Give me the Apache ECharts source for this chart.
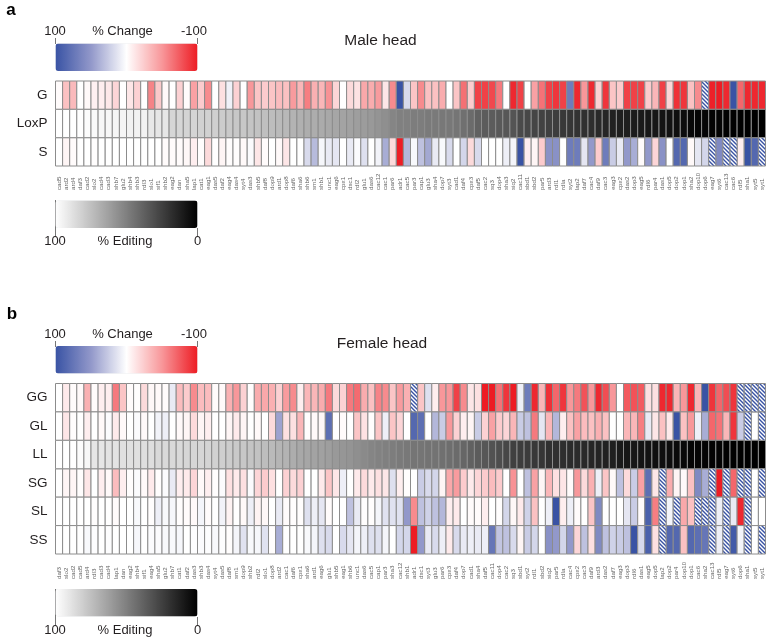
<!DOCTYPE html>
<html>
<head>
<meta charset="utf-8">
<style>
  html, body { margin: 0; padding: 0; background: #fff; }
  #main { width: 772px; height: 643px; }
</style>
<script src="https://cdn.jsdelivr.net/npm/echarts@6/dist/echarts.min.js"></script>
</head>
<body>
<div id="main"></div>
<script>
// genes, left to right. null in a row below = hatched cell
const maleGenes = ['cad5','ard2','ard4','daf3','cad2','slo2','cad4','cad3','shb7','glu2',
  'shb4','shb3','rdl3','slo1','sif1','shb2','eag2','dan','sha5','lap1',
  'cat1','eag1','das5','daf2','eag4','das4','syt4','das3','shb5','daf8',
  'dop9','ard1','dop8','daf6','sha6','shb6','sm1','shb1','unc1','eag6',
  'cpx1','dsc1','rdl2','glu1','das6','cac12','cac1','par6','adr1','cac5',
  'par3','cap1','glu3','sha4','dop7','syt3','cad1','daf4','cpx3','daf5',
  'cac2','sq3','dop4','sha3','siq2','cac11','sbd1','sbd2','par5','ard3',
  'rdl1','rdla','syt2','lap2','daf7','cac4','daf9','cac3','eag3','cpx2',
  'das2','dop3','eag5','rdl6','par4','das1','dop5','dop2','dop1','sha2',
  'dop10','dop6','eag7','syt6','cac13','cac6','rdl5','sha1','syt5','syt1'];
const femaleGenes = ['daf3','slo2','cad2','cad5','ard4','rdl3','cad3','cad4','lap1','dan',
  'eag2','shb4','sif1','eag4','sha5','glu2','shb7','cat1','daf2','das3',
  'shb3','das4','syt4','das5','daf8','sm1','dop9','shb2','rdl2','slo1',
  'dop8','ard2','cac1','daf6','cpx1','sha6','ard1','eag6','glu1','shb5',
  'eag1','shb6','unc1','das6','cac5','cap1','par3','sha3','cac12','shb1',
  'adr1','dsc1','syt3','glu3','par6','cpx3','daf4','dop7','cad1','sha4',
  'daf5','cac11','dop4','cac2','sq3','sbd1','syt2','rdl1','sbd2','siq2',
  'par5','rdla','cac4','cpx2','cac3','daf9','ard3','das2','daf7','eag3',
  'dop3','rdl6','das1','eag5','dop5','lap2','dop2','par4','dop10','dop1',
  'cac6','sha2','cac13','rdl5','eag7','syt6','dop6','sha1','syt5','syt1'];

const maleRows = ['G', 'LoxP', 'S'];
const femaleRows = ['GG', 'GL', 'LL', 'SG', 'SL', 'SS'];

// % change
const maleG = [-2,-30,-33,0,-3,-7,-8,-11,-20,0,
  -12,-22,0,-58,-26,-3,0,-22,-2,-45,
  -25,-55,0,-15,7,-22,0,-50,-28,-25,
  -28,-32,-30,-48,-35,-60,-38,-35,-52,-20,
  0,-18,-14,-42,-40,-48,-12,-55,100,18,
  -28,-55,-30,-30,-40,0,-28,-66,-25,-85,
  -85,-82,-62,0,-95,-85,0,-45,-65,-85,
  -90,-85,70,-95,-50,-95,-22,-90,-28,-25,
  -85,-85,-85,-25,-35,-85,-20,-92,-90,-30,
  -55,null,-98,-100,-95,100,-70,-95,-95,-95];
const maleS = [0,-5,-2,0,0,-1,0,0,0,0,
  0,0,0,0,0,-2,-2,-2,-4,-8,
  -1,-18,0,-5,-1,-1,-3,2,-12,-2,
  0,-3,-12,0,0,18,33,4,10,12,
  0,10,2,15,0,6,40,-18,-100,35,
  3,30,42,10,3,18,0,20,-18,18,
  0,0,0,8,5,100,-8,-5,-25,55,
  55,0,70,70,12,50,-25,70,25,10,
  50,40,-2,50,-20,55,0,85,85,-3,
  12,20,null,60,null,null,-8,100,85,null];
const femaleGG = [0,-10,-2,-3,-38,-2,-8,-8,-62,-28,
  -2,-1,-18,-4,-3,-2,10,-32,-25,-55,
  -32,-32,-2,-3,-38,-50,-22,-1,-40,-42,
  -38,-22,-48,-55,-8,-35,-35,-40,-62,-18,
  -22,-62,-68,-40,-30,-58,-55,-28,-48,-38,
  null,-28,15,-8,-50,-50,-85,-55,-12,-15,
  -100,-100,-65,-90,-100,8,70,-95,-35,-92,
  -70,-90,-50,-62,-78,-50,-95,-80,-50,0,
  -75,-78,-75,-15,-15,-95,-95,-35,-50,-95,
  -35,100,-90,-70,-80,-90,null,null,null,null];
const femaleGL = [0,-12,-1,0,-8,0,-3,2,-10,-3,
  0,2,-3,0,6,8,0,-3,-5,-18,
  -5,-8,0,0,-5,-10,-5,0,-3,0,
  -18,45,-15,-15,-35,-1,-3,-4,80,0,
  -2,0,-28,-14,-1,-28,8,-28,-20,0,
  85,80,0,35,25,-50,-22,-8,-5,25,
  -22,-45,-25,-20,-35,25,30,-62,12,-35,
  35,-8,-30,-45,-32,-30,-38,-30,0,0,
  -35,-35,-60,10,-12,-30,-10,100,-30,-50,
  8,40,-70,-65,-35,-90,25,null,0,null];
const femaleSG = [0,-5,-5,-1,-12,0,-8,-3,-32,-8,
  -1,2,-3,-10,-1,2,10,-8,-10,-20,
  -3,-8,-1,2,-15,-10,-15,2,-20,-25,
  -15,0,-22,-18,-22,0,0,-10,-28,-12,
  8,0,-10,-18,-10,-15,-12,15,-8,-1,
  0,25,18,20,-5,-42,-48,-25,-10,-20,
  -25,-32,-25,0,-52,0,30,-45,-5,-35,
  -15,-12,-2,-50,-18,-38,8,-28,-3,30,
  -18,25,-45,80,-12,null,-40,-5,-3,-30,
  60,40,null,-100,null,-70,null,null,0,null];
const femaleSL = [0,0,0,0,0,-1,0,0,-2,0,
  0,3,0,-1,8,3,4,-1,-2,-3,
  5,-2,0,6,-6,0,-3,8,-6,-4,
  0,10,-2,-1,-1,15,8,12,-2,0,
  0,30,10,-1,-1,5,14,14,14,50,
  -55,30,22,30,35,-8,-10,0,-2,-2,
  -8,0,-1,20,-4,-10,22,-30,0,8,
  100,-8,8,-2,0,-28,60,0,0,0,
  12,25,-2,90,-60,null,5,null,-42,-30,
  null,null,null,8,null,10,-95,null,0,0];
const femaleSS = [0,0,0,0,3,1,0,1,0,0,
  0,4,0,2,2,3,3,4,0,1,
  2,1,3,1,-1,5,14,3,4,14,
  -1,40,0,0,0,3,5,15,18,0,
  18,12,5,8,15,15,5,0,20,20,
  -100,50,10,18,8,-10,18,10,8,10,
  8,75,28,30,18,-5,25,20,0,55,
  50,20,50,-20,30,-15,60,30,22,25,
  30,100,18,90,-15,null,85,85,-30,85,
  80,75,null,8,null,95,5,null,0,null];

// % editing
const maleLoxP = [100,100,100,100,99,98,97,97,96,96,
  95,95,95,91,90,90,84,84,83,83,
  82,82,81,80,79,78,78,77,76,75,
  74,73,72,70,69,68,68,67,66,65,
  64,63,62,61,60,58,56,52,50,50,
  49,49,48,48,47,47,46,44,42,38,
  36,36,35,34,33,29,28,27,26,25,
  24,22,21,20,19,18,16,15,13,12,
  12,11,10,9,9,8,7,6,5,3,
  2,2,1,1,0,0,0,0,0,0];
const femaleLL = [100,100,100,99,97,90,90,89,89,88,
  88,88,87,87,85,85,85,85,84,84,
  84,83,82,81,80,79,78,77,76,74,
  73,71,70,68,66,65,64,63,62,60,
  59,58,56,54,52,51,50,49,48,47,
  46,46,45,45,44,43,42,40,38,36,
  34,32,30,28,25,24,23,22,21,19,
  19,18,17,17,16,15,14,13,12,10,
  9,9,8,7,6,6,5,4,3,2,
  2,1,1,1,0,0,0,0,0,0];

const font = 'Liberation Sans';
const blue = '#3953a4';
const red = '#ed1c24';

// diagonal hatch used for cells with no value
const hatch = document.createElement('canvas');
hatch.width = 4;
hatch.height = 4;
const hc = hatch.getContext('2d');
hc.fillStyle = '#fff';
hc.fillRect(0, 0, 4, 4);
hc.strokeStyle = blue;
hc.lineWidth = 1.4;
hc.beginPath();
hc.moveTo(-1, -1); hc.lineTo(5, 5);
hc.moveTo(-1, 3); hc.lineTo(1, 5);
hc.moveTo(3, -1); hc.lineTo(5, 1);
hc.stroke();

// [x, y, value] triples for one row, skipping or keeping the hatched cells
function cells(row, y) {
  const out = [];
  row.forEach((v, x) => { if (v !== null) out.push([x, y, v]); });
  return out;
}
function hatched(row, y) {
  const out = [];
  row.forEach((v, x) => { if (v === null) out.push([x, y, 0]); });
  return out;
}

function cellItem(params, api) {
  const p = api.coord([api.value(0), api.value(1)]);
  const s = api.size([1, 1]);
  return {
    type: 'rect',
    shape: { x: p[0] - s[0] / 2, y: p[1] - s[1] / 2, width: s[0], height: s[1] },
    style: {
      fill: api.visual('color'),
      stroke: '#8c8c8c',
      lineWidth: 1
    }
  };
}

function hatchItem(params, api) {
  const item = cellItem(params, api);
  item.style.fill = { image: hatch, repeat: 'repeat' };
  return item;
}

function heat(name, panel, data, render) {
  return {
    name: name,
    type: 'custom',
    xAxisIndex: panel,
    yAxisIndex: panel,
    data: data,
    silent: true,
    clip: false,
    renderItem: render || cellItem,
    encode: { x: 0, y: 1 }
  };
}

function gradientBar(left, top, series, min, max, colors) {
  return {
    type: 'continuous',
    orient: 'horizontal',
    inverse: true,
    min: min,
    max: max,
    left: left,
    top: top,
    padding: 0,
    itemWidth: 27.5,
    itemHeight: 142,
    calculable: false,
    hoverLink: false,
    text: null,
    dimension: 2,
    seriesIndex: series,
    inRange: { color: colors }
  };
}

function label(text, x, y, size, extra) {
  return {
    type: 'text',
    x: x,
    y: y,
    silent: true,
    style: Object.assign({
      text: text,
      font: size + 'px "' + font + '"',
      fill: '#231f20',
      align: 'center',
      verticalAlign: 'middle'
    }, extra || {})
  };
}

function tick(x, y1, y2) {
  return {
    type: 'line',
    silent: true,
    shape: { x1: x, y1: y1, x2: x, y2: y2 },
    style: { stroke: '#777', lineWidth: 1 }
  };
}

function geneAxis(names, idx, margin) {
  return {
    type: 'category',
    gridIndex: idx,
    data: names,
    axisLine: { show: false },
    axisTick: { show: false },
    axisLabel: {
      interval: 0,
      rotate: 90,
      align: 'left',
      verticalAlign: 'middle',
      margin: margin,
      fontFamily: font,
      fontSize: 6.2,
      color: '#666'
    }
  };
}

function rowAxis(names, idx) {
  return {
    type: 'category',
    gridIndex: idx,
    data: names,
    inverse: true,
    axisLine: { show: false },
    axisTick: { show: false },
    axisLabel: { margin: 8, fontFamily: font, fontSize: 13.5, color: '#231f20' }
  };
}

const changeColors = [red, '#f8979a', '#ffffff', '#9298ca', blue];
const editColors = ['#000000', '#ffffff'];

const chart = echarts.init(document.getElementById('main'));
chart.setOption({
  backgroundColor: '#fff',
  animation: false,
  grid: [
    { left: 55.5, top: 81, width: 710, height: 85 },
    { left: 55.5, top: 383.5, width: 710, height: 170.5 }
  ],
  xAxis: [geneAxis(maleGenes, 0, 24), geneAxis(femaleGenes, 1, 25)],
  yAxis: [rowAxis(maleRows, 0), rowAxis(femaleRows, 1)],
  visualMap: [
    gradientBar(55.5, 43.5, [0], -100, 100, changeColors),
    gradientBar(55.5, 200.5, [1], 0, 100, editColors),
    gradientBar(55.5, 346, [3], -100, 100, changeColors),
    gradientBar(55.5, 589, [4], 0, 100, editColors)
  ],
  series: [
    heat('male change', 0, cells(maleG, 0).concat(cells(maleS, 2))),
    heat('male editing', 0, cells(maleLoxP, 1)),
    heat('male hatched', 0, hatched(maleG, 0).concat(hatched(maleS, 2)), hatchItem),
    heat('female change', 1, [].concat(cells(femaleGG, 0), cells(femaleGL, 1), cells(femaleSG, 3),
      cells(femaleSL, 4), cells(femaleSS, 5))),
    heat('female editing', 1, cells(femaleLL, 2)),
    heat('female hatched', 1, [].concat(hatched(femaleGG, 0), hatched(femaleGL, 1), hatched(femaleSG, 3),
      hatched(femaleSL, 4), hatched(femaleSS, 5)), hatchItem)
  ],
  graphic: [
    label('a', 11, 10, 17, { font: 'bold 17px "' + font + '"', fill: '#000' }),
    label('100', 55, 31.5, 13),
    label('% Change', 122.5, 31.5, 13),
    label('-100', 194, 31.5, 13),
    tick(55.5, 38, 44),
    tick(197.5, 38, 44),
    label('Male head', 380.5, 41, 15.5),
    tick(55.5, 200, 236),
    tick(197.5, 228, 236),
    label('100', 55, 241, 13),
    label('% Editing', 125, 241, 13),
    label('0', 197.5, 241, 13),

    label('b', 12, 314, 17, { font: 'bold 17px "' + font + '"', fill: '#000' }),
    label('100', 55, 334, 13),
    label('% Change', 122.5, 334, 13),
    label('-100', 194, 334, 13),
    tick(55.5, 341, 347),
    tick(197.5, 341, 347),
    label('Female head', 382, 344, 15.5),
    tick(55.5, 589, 625),
    tick(197.5, 617, 625),
    label('100', 55, 630, 13),
    label('% Editing', 125, 630, 13),
    label('0', 197.5, 630, 13)
  ]
});
</script>
</body>
</html>
